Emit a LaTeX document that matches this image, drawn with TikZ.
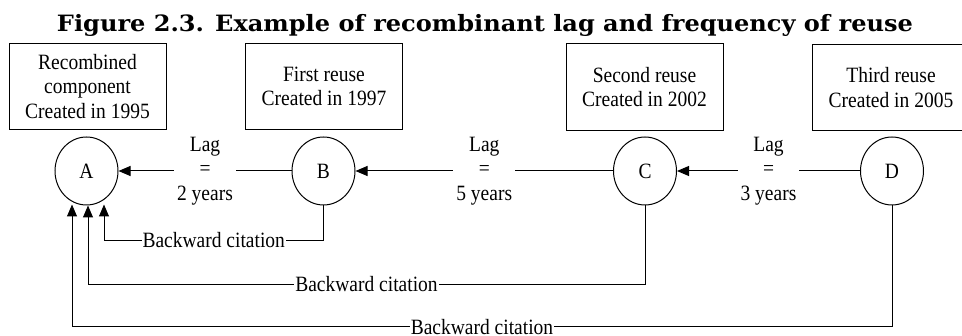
\documentclass[tikz,border=0pt]{standalone}
\usepackage{fontspec}
\setmainfont{Liberation Serif}
\newfontfamily\titlefont{DejaVu Serif}
\usetikzlibrary{arrows.meta,shapes.geometric,calc}
\newlength\titlew
\newcommand\mytitletext{\titlefont\bfseries\fontsize{22.5}{26}\selectfont Figure 2.3. Example of recombinant lag and frequency of reuse}
\tikzset{
  txt/.style={font=\fontsize{19.5}{22}\selectfont, align=center, yscale=1.12, transform shape},
  box/.style={draw, line width=1pt, txt, minimum width=157pt, minimum height=76.8pt, inner sep=0pt},
  circ/.style={ellipse, draw, line width=1pt, minimum width=63pt, minimum height=68pt, inner sep=0pt, font=\fontsize{19.5}{22}\selectfont},
  arr/.style={line width=1pt, -{Triangle[length=12pt,width=10pt]}},
  lag/.style={txt, fill=white, inner xsep=3pt, inner ysep=0pt},
  cite/.style={txt, fill=white, inner xsep=1pt, inner ysep=0pt},
}
\begin{document}
\settowidth\titlew{\mytitletext}%
\pgfmathsetmacro\tsx{856/\the\titlew}%
\begin{tikzpicture}[x=1pt,y=-1pt]
\useasboundingbox (0,0) rectangle (962,336);
\node[anchor=base, inner sep=0pt] (title) at (485,31.7) {\scalebox{\tsx}[1]{\mytitletext}};

\node[box] (bA) at (87.5,86.5) {Recombined\\component\\Created in 1995};
\node[box] (bB) at (324,86.5) {First reuse\\Created in 1997};
\node[box] (bC) at (644.5,87) {Second reuse\\Created in 2002};
\node[box] (bD) at (891,87.5) {Third reuse\\Created in 2005};

\node[circ] (A) at (86.5,171) {\scalebox{1}[1.12]{A}};
\node[circ] (B) at (323.5,171) {\scalebox{1}[1.12]{B}};
\node[circ] (C) at (645,171) {\scalebox{1}[1.12]{C}};
\node[circ] (D) at (892,171) {\scalebox{1}[1.12]{D}};

\draw[arr] (B.west) -- node[lag] (l1) {Lag\\=\\2 years} (A.east);
\draw[arr] (C.west) -- node[lag] (l2) {Lag\\=\\5 years} (B.east);
\draw[arr] (D.west) -- node[lag] (l3) {Lag\\=\\3 years} (C.east);

\coordinate (t1) at ([xshift=17.5pt,yshift=1pt]A.south);
\coordinate (t2) at ([xshift=1.5pt,yshift=0pt]A.south);
\coordinate (t3) at ([xshift=-14.5pt,yshift=1pt]A.south);

\draw[arr] (B.south) -- ++(0,35) -| node[cite,pos=0.25] (c1) {Backward citation} (t1);
\draw[arr] (C.south) -- ++(0,79) -| node[cite,pos=0.25] (c2) {Backward citation} (t2);
\draw[arr] (D.south) -- ++(0,121.5) -| node[cite,pos=0.25] (c3) {Backward citation} (t3);
\end{tikzpicture}
\end{document}
